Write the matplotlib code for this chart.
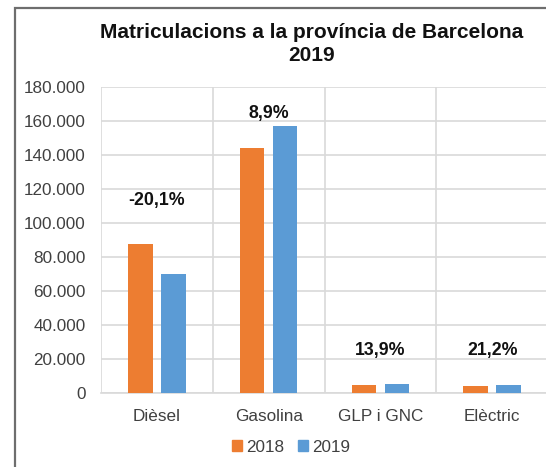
import matplotlib
matplotlib.use('Agg')
import matplotlib.pyplot as plt
import matplotlib.patches as mpatches
from matplotlib.ticker import FuncFormatter, MultipleLocator
import numpy as np

plt.rcParams['font.family'] = ['Liberation Sans', 'DejaVu Sans']

categories = ['Dièsel', 'Gasolina', 'GLP i GNC', 'Elèctric']
years = ['2018', '2019']
values_2018 = [87600, 143800, 4600, 3900]
values_2019 = [70000, 156600, 5240, 4730]
pct_labels = ['-20,1%', '8,9%', '13,9%', '21,2%']
pct_label_y = [113000, 164500, 24700, 24700]

colors = ['#ED7D31', '#5B9BD5']

W, H = 546, 467
fig = plt.figure(figsize=(W / 100, H / 100), dpi=100)

# outer chart border (cropped at right/bottom like the reference)
fig.patches.append(mpatches.Rectangle((15 / W, -0.05), 1.2, 1 - 8 / H + 0.05,
                                      transform=fig.transFigure, fill=False,
                                      edgecolor='#6e6e6e', linewidth=1.6))

ax = fig.add_axes([101 / W, (H - 392.7) / H, (548 - 101) / W, (392.7 - 86.7) / H])

x = np.arange(len(categories))
bw = 0.22
off = 0.147
ax.bar(x - off, values_2018, bw, color=colors[0], label=years[0], zorder=3)
ax.bar(x + off, values_2019, bw, color=colors[1], label=years[1], zorder=3)

for xi, txt, yy in zip(x, pct_labels, pct_label_y):
    ax.text(xi, yy, txt, ha='center', va='center', fontsize=12.8,
            fontweight='bold', color='#111111')

ax.set_xlim(-0.5, 3.5)
ax.set_ylim(0, 180000)
ax.yaxis.set_major_locator(MultipleLocator(20000))
ax.yaxis.set_major_formatter(FuncFormatter(lambda v, p: f'{int(v):,}'.replace(',', '.')))
ax.set_xticks(x)
ax.set_xticklabels(categories)
ax.set_xticks(np.arange(-0.5, 3.5, 1.0), minor=True)

ax.grid(axis='y', which='major', color='#d9d9d9', linewidth=1.2, zorder=0)
ax.grid(axis='x', which='minor', color='#d9d9d9', linewidth=1.2, zorder=0)
ax.grid(axis='x', which='major', visible=False)

for s in ['left', 'right', 'top']:
    ax.spines[s].set_visible(False)
ax.spines['bottom'].set_color('#d9d9d9')
ax.spines['bottom'].set_linewidth(1.2)

ax.tick_params(axis='both', which='both', length=0, labelsize=12.3, colors='#404040')
ax.tick_params(axis='y', pad=11)
ax.tick_params(axis='x', pad=12)

fig.text(312 / W, 1 - 44 / H, 'Matriculacions a la província de Barcelona\n2019',
         ha='center', va='center', fontsize=15, fontweight='bold',
         linespacing=1.28, color='#111111')

handles = [mpatches.Patch(color=c) for c in colors]
fig.legend(handles, years, loc='center', bbox_to_anchor=(291 / W, 1 - 447 / H),
           ncol=2, frameon=False, fontsize=12.3, handlelength=0.6, handleheight=0.6,
           handletextpad=0.25, columnspacing=0.8, labelcolor='#404040')

fig.savefig('out.png', dpi=100, facecolor='white')
